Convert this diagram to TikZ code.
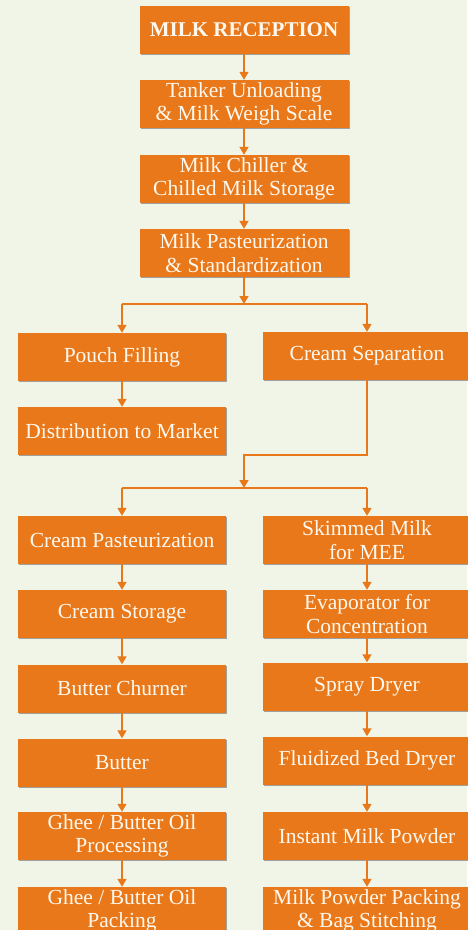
\documentclass[tikz,border=0pt]{standalone}
\usepackage{fontspec}
\setmainfont{Liberation Serif}
\usetikzlibrary{arrows.meta,shadows}
\definecolor{bgpale}{HTML}{F0F5E8}
\definecolor{dairyorange}{HTML}{E8781A}
\definecolor{boxtext}{HTML}{FFF8EE}

\begin{document}
\begin{tikzpicture}[x=1pt,y=1pt,
    stage/.style={rectangle,fill=dairyorange,text=boxtext,align=center,
      minimum width=208pt,minimum height=48pt,inner sep=0pt,
      font=\fontsize{21.5}{23.5}\selectfont,
      drop shadow={shadow xshift=1.3pt,shadow yshift=-1.3pt,fill=black!45,opacity=0.8}},
    flow/.style={draw=dairyorange,line width=1.4pt,-{Triangle[width=9pt,length=8pt]}},
    feed/.style={draw=dairyorange,line width=1.4pt}]
  \fill[bgpale] (0,0) rectangle (467,-930);
  \useasboundingbox (0,0) rectangle (467,-930);
  % main line
  \node[stage,minimum width=209pt,font=\fontsize{21}{23.5}\selectfont\bfseries] (recv) at (244,-30) {MILK RECEPTION};
  \node[stage,minimum width=209pt] (tanker) at (244,-104) {Tanker Unloading\\\& Milk Weigh Scale};
  \node[stage,minimum width=209pt] (chiller) at (244,-179) {Milk Chiller \&\\Chilled Milk Storage};
  \node[stage,minimum width=209pt] (past) at (244,-253) {Milk Pasteurization\\\& Standardization};
  % first split
  \node[stage] (pouch) at (122,-357) {Pouch Filling};
  \node[stage] (csep) at (367,-356) {Cream Separation};
  \node[stage] (distr) at (122,-431) {Distribution to Market};
  % cream side
  \node[stage] (cpast) at (122,-540) {Cream Pasteurization};
  \node[stage] (cstore) at (122,-614) {Cream Storage};
  \node[stage] (churn) at (122,-688.5) {Butter Churner};
  \node[stage] (butter) at (122,-762.5) {Butter};
  \node[stage] (gheeproc) at (122,-836) {Ghee / Butter Oil\\Processing};
  \node[stage] (gheepack) at (122,-911) {Ghee / Butter Oil\\Packing};
  % skim side
  \node[stage] (skim) at (367,-540) {Skimmed Milk\\for MEE};
  \node[stage] (evap) at (367,-614) {Evaporator for\\Concentration};
  \node[stage] (spray) at (367,-686.5) {Spray Dryer};
  \node[stage] (fbd) at (367,-760.5) {Fluidized Bed Dryer};
  \node[stage] (imp) at (367,-836) {Instant Milk Powder};
  \node[stage] (mpp) at (367,-911) {Milk Powder Packing\\\& Bag Stitching};
  % junctions
  \coordinate (j1) at (244,-304);
  \coordinate (j1l) at (122,-304);
  \coordinate (j1r) at (367,-304);
  \coordinate (bend) at (244,-455);
  \coordinate (j2) at (244,-488);
  \coordinate (j2l) at (122,-488);
  \coordinate (j2r) at (367,-488);
  % connectors
  \draw[flow] (recv) -- (tanker);
  \draw[flow] (tanker) -- (chiller);
  \draw[flow] (chiller) -- (past);
  \draw[flow] (past) -- (j1);
  \draw[feed] (j1l) -- (j1r);
  \draw[flow] (j1l) -- (pouch);
  \draw[flow] (j1r) -- (csep);
  \draw[flow] (pouch) -- (distr);
  \draw[flow] (csep.south) |- (bend) -- (j2);
  \draw[feed] (j2l) -- (j2r);
  \draw[flow] (j2l) -- (cpast);
  \draw[flow] (j2r) -- (skim);
  \draw[flow] (cpast) -- (cstore);
  \draw[flow] (cstore) -- (churn);
  \draw[flow] (churn) -- (butter);
  \draw[flow] (butter) -- (gheeproc);
  \draw[flow] (gheeproc) -- (gheepack);
  \draw[flow] (skim) -- (evap);
  \draw[flow] (evap) -- (spray);
  \draw[flow] (spray) -- (fbd);
  \draw[flow] (fbd) -- (imp);
  \draw[flow] (imp) -- (mpp);
\end{tikzpicture}
\end{document}
